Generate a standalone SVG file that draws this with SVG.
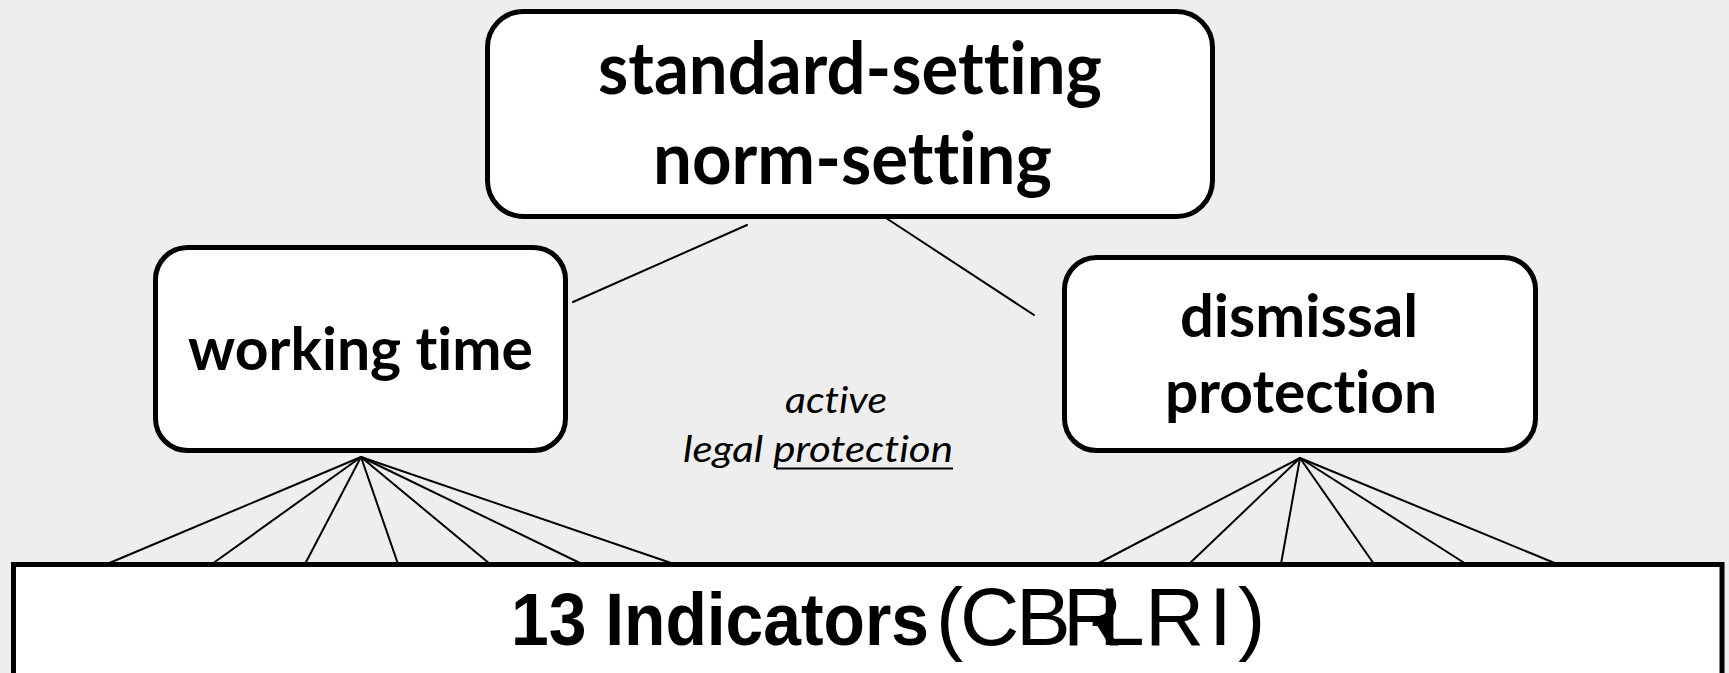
<svg xmlns="http://www.w3.org/2000/svg" width="1729" height="673" viewBox="0 0 1729 673">
  <style>
    .box { fill: #ffffff; stroke: #000000; stroke-width: 5; }
    .lbl { font-family: Lato, "Open Sans", "DejaVu Sans", sans-serif; font-weight: bold; fill: #000; text-anchor: middle; font-variant-ligatures: none; font-feature-settings: "liga" 0, "clig" 0; }
    .it { font-family: Lato, "Open Sans", "DejaVu Sans", sans-serif; font-style: italic; font-size: 37px; fill: #000; font-variant-ligatures: none; font-feature-settings: "liga" 0, "clig" 0; }
    .arial { font-family: "Liberation Sans", Arial, sans-serif; fill: #000; }
    .conn line { stroke: #000; stroke-width: 2; stroke-linecap: round; }
  </style>
  <rect x="0" y="0" width="1729" height="673" fill="#eeeeee"/>

  <g id="connectors" class="conn">
    <line x1="747" y1="225" x2="573" y2="302"/>
    <line x1="886" y1="218" x2="1034" y2="315"/>
    <line x1="361" y1="457" x2="107" y2="564"/>
    <line x1="361" y1="457" x2="212" y2="564"/>
    <line x1="361" y1="457" x2="305" y2="564"/>
    <line x1="361" y1="457" x2="398" y2="564"/>
    <line x1="361" y1="457" x2="490" y2="564"/>
    <line x1="361" y1="457" x2="582" y2="564"/>
    <line x1="361" y1="457" x2="674" y2="564"/>
    <line x1="1300" y1="458" x2="1097" y2="564"/>
    <line x1="1300" y1="458" x2="1189" y2="564"/>
    <line x1="1300" y1="458" x2="1281" y2="564"/>
    <line x1="1300" y1="458" x2="1374" y2="564"/>
    <line x1="1300" y1="458" x2="1466" y2="564"/>
    <line x1="1300" y1="458" x2="1557" y2="564"/>
  </g>

  <g id="node-standard">
    <rect class="box" x="487.5" y="11.5" width="725" height="205" rx="36"/>
    <text class="lbl" x="850" y="94" font-size="72" textLength="504" lengthAdjust="spacingAndGlyphs">standard-setting</text>
    <text class="lbl" x="852.5" y="184" font-size="72" textLength="399" lengthAdjust="spacingAndGlyphs">norm-setting</text>
  </g>

  <g id="node-working-time">
    <rect class="box" x="155.5" y="247.5" width="410" height="203" rx="32"/>
    <text class="lbl" x="360.5" y="370" font-size="60" textLength="345" lengthAdjust="spacingAndGlyphs">working time</text>
  </g>

  <g id="node-dismissal">
    <rect class="box" x="1064.5" y="257.5" width="471" height="193" rx="32"/>
    <text class="lbl" x="1299" y="337" font-size="60" textLength="238" lengthAdjust="spacingAndGlyphs">dismissal</text>
    <text class="lbl" x="1301" y="413" font-size="60" textLength="272" lengthAdjust="spacingAndGlyphs">protection</text>
  </g>

  <g id="label-active">
    <text class="it" x="785" y="413" textLength="102" lengthAdjust="spacingAndGlyphs">active</text>
    <text class="it" x="683" y="462" textLength="270" lengthAdjust="spacingAndGlyphs">legal protection</text>
    <line x1="776" y1="468.5" x2="953" y2="468.5" stroke="#000" stroke-width="2"/>
  </g>

  <g id="node-indicators">
    <rect class="box" x="13.5" y="564.5" width="1708.5" height="120"/>
    <text class="arial" x="511" y="645" font-size="74" font-weight="bold" textLength="418" lengthAdjust="spacingAndGlyphs">13 Indicators</text>
    <text class="arial" y="645" font-size="82" x="936 960 1016 1063 1089 1099 1145 1209 1238">(CBR-LRI)</text>
  </g>
</svg>
